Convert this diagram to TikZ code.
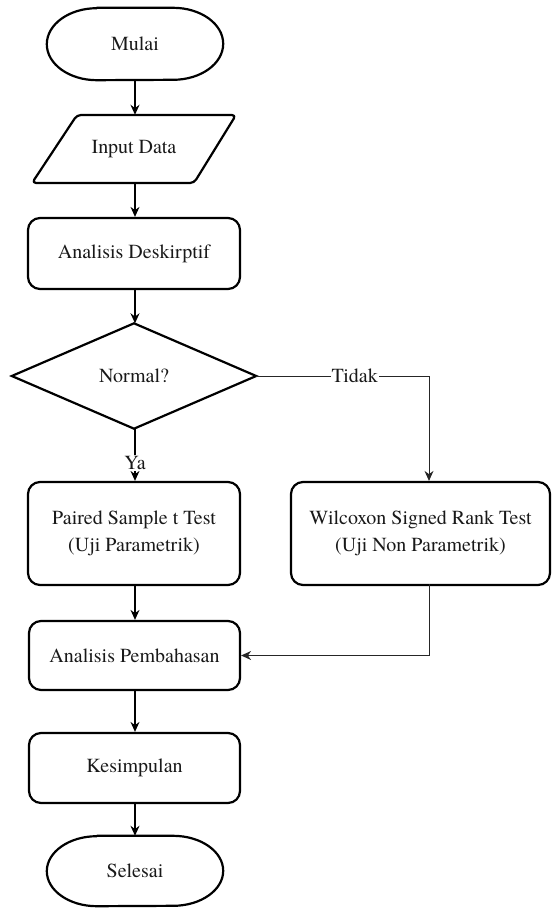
\documentclass[tikz,border=0pt]{standalone}
\usepackage{fontspec}
\newfontfamily\tnrfont{texgyretermes}[Extension=.otf,UprightFont=*-regular]
\usetikzlibrary{arrows.meta}
\begin{document}
\begin{tikzpicture}[x=1pt,y=1pt,
  shapeline/.style={line width=2.2pt,line join=round},
  boxnode/.style={draw,line width=2.2pt,rounded corners=12pt,align=center},
  flow/.style={line width=1.4pt,-{Stealth[length=10pt,width=9pt]}},
  sideflow/.style={line width=1pt,black!85,-{Stealth[length=10pt,width=9pt]}},
  lbl/.style={fill=white,inner sep=1pt,font=\tnrfont\fontsize{20}{24}\selectfont},
  every node/.style={font=\tnrfont\fontsize{20}{27}\selectfont,text=black!90}]
\useasboundingbox (0,0) rectangle (552,-909);
% Mulai
\node[minimum width=176pt,minimum height=72pt,inner sep=0pt] (mulai) at (135,-44) {Mulai};
\draw[shapeline] ([xshift=50pt]mulai.north west) -- ([xshift=-50pt]mulai.north east)
  arc[start angle=90,end angle=-90,x radius=50pt,y radius=36pt]
  -- ([xshift=50pt]mulai.south west)
  arc[start angle=270,end angle=90,x radius=50pt,y radius=36pt] -- cycle;
% Input Data
\node[minimum width=160pt,minimum height=68pt,inner sep=0pt] (input) at (134,-149) {Input Data};
\draw[shapeline,rounded corners=4pt] (77,-115) -- (236,-115) -- (194,-183) -- (32,-183) -- cycle;
% Analisis Deskirptif
\node[boxnode,minimum width=212pt,minimum height=71pt] (desk) at (134,-253.5) {Analisis Deskirptif};
% Decision
\node[minimum width=244pt,minimum height=105pt,inner sep=0pt] (dec) at (134,-376) {Normal?};
\draw[shapeline,line join=miter] (dec.north) -- (dec.east) -- (dec.south) -- (dec.west) -- cycle;
% Paired
\node[boxnode,minimum width=212pt,minimum height=103pt] (paired) at (134,-533.5) {Paired Sample t Test\\(Uji Parametrik)};
% Wilcoxon
\node[boxnode,minimum width=259pt,minimum height=103pt] (wil) at (420.5,-533.5) {Wilcoxon Signed Rank Test\\(Uji Non Parametrik)};
% Pembahasan
\node[boxnode,minimum width=211pt,minimum height=69pt] (pem) at (134.5,-655.5) {Analisis Pembahasan};
% Kesimpulan
\node[boxnode,minimum width=211pt,minimum height=70pt] (kes) at (134.5,-768) {Kesimpulan};
% Selesai
\node[minimum width=176pt,minimum height=70pt,inner sep=0pt] (sel) at (135,-871) {Selesai};
\draw[shapeline] ([xshift=50pt]sel.north west) -- ([xshift=-50pt]sel.north east)
  arc[start angle=90,end angle=-90,x radius=50pt,y radius=35pt]
  -- ([xshift=50pt]sel.south west)
  arc[start angle=270,end angle=90,x radius=50pt,y radius=35pt] -- cycle;
% coordinates
\coordinate (tk) at (429,-376);
\coordinate (wb) at (429,-584);
% connectors
\draw[flow] (mulai.south -| 135,0) -- (input.north -| 135,0);
\draw[flow] (input.south -| 135,0) -- (desk.north -| 135,0);
\draw[flow] (desk.south -| 135,0) -- (dec.north -| 135,0);
\draw[flow] (dec.south -| 135,0) -- node[lbl,pos=0.66] {Ya} (paired.north -| 135,0);
\draw[sideflow] (dec.east) -- node[lbl,pos=0.57] {Tidak} (tk) -- (tk |- wil.north);
\draw[flow] (paired.south -| 135,0) -- (pem.north -| 135,0);
\draw[sideflow] (wb) -- (wb |- pem.east) -- (pem.east);
\draw[flow] (pem.south -| 135,0) -- (kes.north -| 135,0);
\draw[flow] (kes.south -| 135,0) -- (sel.north -| 135,0);
\end{tikzpicture}
\end{document}
